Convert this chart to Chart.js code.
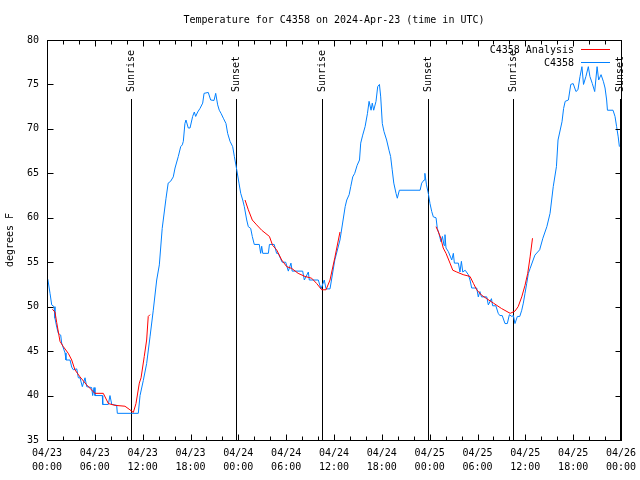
<!DOCTYPE html>
<html>
<head>
<meta charset="utf-8">
<title>Temperature for C4358</title>
<script src="https://cdn.jsdelivr.net/npm/chart.js@4"></script>
<style>
  html, body { margin: 0; padding: 0; background: #fff; }
</style>
</head>
<body>
<canvas id="tempChart" width="640" height="480"></canvas>
<script>
// Data (hours since 2024-04-23 00:00 UTC)

const obsHours = [0.1, 0.38, 0.59, 0.88, 1.0, 1.22, 1.42, 1.72, 1.84, 2.26, 2.38, 2.89, 3.1, 3.3, 3.73, 3.93, 4.14, 4.43, 4.77, 4.98,
    5.6, 5.73, 5.9, 6.02, 6.94, 6.99, 7.69, 7.9, 8.12, 8.74, 8.82, 10.62, 11.45, 11.67, 12.08, 12.5, 12.92, 13.33, 13.76, 14.09,
    14.45, 14.93, 15.2, 15.5, 15.84, 16.06, 16.47, 16.77, 16.97, 17.1, 17.3, 17.43, 17.72, 17.94, 18.27, 18.48, 18.65, 18.9, 19.19, 19.53,
    19.7, 20.23, 20.53, 20.95, 21.16, 21.41, 21.61, 21.83, 22.12, 22.45, 22.66, 22.96, 23.29, 23.5, 23.8, 24.08, 24.3, 24.55, 24.75, 25.05,
    25.25, 25.55, 25.75, 26.0, 26.63, 26.8, 26.93, 27.06, 27.77, 27.9, 28.5, 28.8, 29.0, 29.3, 29.5, 29.94, 30.27, 30.6, 30.75, 32.07,
    32.28, 32.78, 32.9, 34.03, 34.37, 34.78, 35.0, 35.5, 36.1, 36.75, 37.4, 37.6, 37.9, 38.1, 38.35, 38.6, 38.9, 39.2, 39.35, 39.6,
    39.9, 40.2, 40.4, 40.65, 40.8, 40.98, 41.27, 41.48, 41.7, 41.86, 42.06, 42.27, 42.6, 42.9, 43.1, 43.3, 43.5, 43.78, 43.94, 44.2,
    46.8, 47.0, 47.3, 47.4, 47.6, 47.83, 48.04, 48.26, 48.46, 48.8, 48.96, 49.2, 49.42, 49.6, 49.8, 49.92, 50.05, 50.34, 50.77, 50.97,
    51.1, 51.6, 51.8, 51.98, 52.15, 52.45, 52.85, 53.06, 53.27, 53.9, 54.1, 54.3, 54.5, 55.16, 55.36, 55.75, 55.9, 56.3, 56.6, 56.8,
    57.1, 57.45, 57.74, 58.0, 58.3, 58.5, 58.7, 59.0, 59.3, 59.55, 59.75, 59.96, 60.17, 60.38, 60.6, 61.2, 61.8, 62.2, 62.7, 63.1,
    63.5, 63.9, 64.1, 64.6, 64.8, 65.0, 65.4, 65.7, 66.0, 66.35, 66.6, 66.86, 67.1, 67.3, 67.6, 67.9, 68.1, 68.4, 68.7, 69.0,
    69.2, 69.5, 69.8, 70.0, 70.2, 70.3, 71.0, 71.25, 71.45, 71.65, 71.8];

const obsTemps = [53.1, 51.5, 50.2, 50.0, 48.7, 47.7, 47.0, 46.8, 45.9, 44.8, 44.0, 44.0, 43.2, 42.9, 43.0, 42.0, 42.0, 41.0, 42.0, 41.0,
    40.9, 40.0, 40.9, 40.0, 40.0, 39.0, 39.0, 40.0, 39.0, 38.9, 38.0, 38.0, 38.0, 40.0, 41.7, 43.6, 46.6, 49.6, 53.0, 54.7,
    58.8, 62.2, 63.9, 64.1, 64.6, 65.6, 66.9, 68.0, 68.2, 68.6, 70.6, 71.0, 70.1, 70.1, 71.4, 71.9, 71.4, 71.9, 72.3, 72.9,
    74.0, 74.1, 73.25, 73.2, 74.0, 72.7, 72.1, 71.75, 71.2, 70.6, 69.5, 68.6, 68.0, 66.9, 65.4, 63.9, 62.75, 62.0, 61.25, 59.75,
    59.0, 58.8, 57.9, 57.0, 57.0, 56.0, 56.8, 56.0, 56.0, 57.0, 57.0, 56.0, 56.0, 55.4, 55.0, 55.0, 54.0, 54.9, 54.0, 54.0,
    53.0, 53.9, 53.0, 53.0, 52.0, 53.0, 52.0, 52.0, 55.25, 57.5, 61.25, 62.0, 62.6, 63.5, 64.6, 65.0, 65.9, 66.5, 68.4, 69.3,
    70.25, 71.75, 73.1, 72.1, 72.9, 72.1, 73.1, 74.75, 75.0, 73.6, 70.6, 69.7, 68.75, 67.6, 66.9, 65.4, 63.9, 62.75, 62.2, 63.1,
    63.1, 63.9, 64.25, 65.0, 63.7, 62.75, 61.6, 60.7, 60.1, 60.0, 58.8, 58.1, 57.3, 57.9, 56.9, 58.1, 56.6, 56.2, 55.25, 56.0,
    54.9, 54.9, 53.9, 55.1, 53.9, 54.1, 53.6, 53.0, 52.1, 52.1, 51.1, 51.7, 51.1, 51.1, 50.2, 50.9, 50.1, 50.1, 49.25, 49.0,
    49.0, 48.1, 48.1, 49.1, 48.9, 49.0, 48.1, 48.9, 48.9, 49.6, 50.4, 51.5, 52.6, 53.75, 54.3, 55.8, 56.4, 57.7, 59.0, 60.5,
    63.5, 65.75, 68.75, 70.8, 72.3, 73.1, 73.25, 75.0, 75.1, 74.2, 74.4, 75.9, 77.0, 75.0, 75.9, 77.0, 75.9, 75.1, 74.2, 77.0,
    75.5, 76.1, 75.3, 74.6, 73.25, 72.1, 72.1, 71.4, 70.25, 69.1, 68.0];

// analysis has gaps (null)
const anaHours = [0.67, 1.0, 1.22, 1.63, 2.05, 2.67, 3.1, 3.5, 4.14, 4.98, 6.0, 7.06, 7.7, 8.53, 9.78, 10.4, 10.83, 11.16, 11.58, 11.8,
    12.2, 12.5, 12.7, 12.92, 18.0,
    24.84, 25.25, 25.75, 26.3, 26.93, 27.9, 28.3, 28.8, 29.44, 30.07, 30.7, 31.5, 32.36, 33.2, 33.83, 34.46, 35.0, 35.5, 36.1, 36.75, 42.0,
    48.8, 49.1, 49.4, 49.7, 50.05, 50.55, 50.9, 51.4, 52.2, 53.06, 53.5, 53.9, 54.5, 55.16, 56.0, 57.0, 58.1, 58.7, 59.1, 59.55,
    59.96, 60.3, 60.6, 60.9];

const anaTemps = [49.7, 49.4, 48.2, 46.1, 45.5, 44.75, 44.0, 42.9, 42.1, 41.2, 40.25, 40.25, 39.1, 38.9, 38.8, 38.4, 38.1, 39.1, 41.4, 42.0,
    44.4, 46.25, 48.9, 49.1, null,
    62.0, 60.9, 59.75, 59.2, 58.6, 57.9, 56.9, 56.4, 55.25, 54.5, 54.3, 53.75, 53.4, 53.2, 52.6, 51.9, 51.9, 53.0, 55.5, 58.4, null,
    59.0, 58.4, 57.7, 56.6, 56.0, 54.9, 54.1, 53.9, 53.6, 53.4, 52.6, 51.9, 51.3, 50.9, 50.4, 49.8, 49.25, 49.5, 50.0, 51.1,
    52.4, 53.75, 55.6, 57.7];

const sunHours = [10.54, 23.70, 34.48, 47.79, 58.45, 71.9];
const sunLabels = ['Sunrise', 'Sunset', 'Sunrise', 'Sunset', 'Sunrise', 'Sunset'];

const xLabelHours = [0, 6, 12, 18, 24, 30, 36, 42, 48, 54, 60, 66, 72];
const xLabelDates = ['04/23', '04/23', '04/23', '04/23', '04/24', '04/24', '04/24', '04/24', '04/25', '04/25', '04/25', '04/25', '04/26'];
const xLabelTimes = ['00:00', '06:00', '12:00', '18:00', '00:00', '06:00', '12:00', '18:00', '00:00', '06:00', '12:00', '18:00', '00:00'];

const FONT = 'DejaVu Sans Mono';

// Sunrise / sunset lines, frame with inward ticks, legend

const gnuplotLook = {
    id: 'gnuplotLook',
    beforeDatasetsDraw(chart) {
        const ctx = chart.ctx;
        const area = chart.chartArea;
        const xs = chart.scales.x;
        ctx.save();
        ctx.strokeStyle = '#000';
        ctx.lineWidth = 1;
        ctx.fillStyle = '#000';
        ctx.font = '10px ' + FONT;
        sunHours.forEach((h, i) => {
            const px = Math.round(xs.getPixelForValue(h)) + 0.5;
            ctx.beginPath();
            ctx.moveTo(px, area.top + 59);
            ctx.lineTo(px, area.bottom);
            ctx.stroke();
            ctx.save();
            ctx.translate(px, area.top + 52);
            ctx.rotate(-Math.PI / 2);
            ctx.textAlign = 'left';
            ctx.textBaseline = 'middle';
            ctx.fillText(sunLabels[i], 0, 0);
            ctx.restore();
        });
        ctx.restore();
    },
    afterDatasetsDraw(chart) {
        const ctx = chart.ctx;
        const area = chart.chartArea;
        const xs = chart.scales.x;
        const ys = chart.scales.y;
        ctx.save();
        ctx.strokeStyle = '#000';
        ctx.lineWidth = 1;
        const l = Math.round(area.left) + 0.5, r = Math.round(area.right) + 0.5;
        const t = Math.round(area.top) + 0.5, b = Math.round(area.bottom) + 0.5;
        ctx.strokeRect(l, t, r - l, b - t);
        ctx.beginPath();
        xs.ticks.forEach(tk => {
            const px = Math.round(xs.getPixelForValue(tk.value)) + 0.5;
            const len = tk.value % 6 === 0 ? 6 : 4;
            ctx.moveTo(px, b); ctx.lineTo(px, b - len);
            ctx.moveTo(px, t); ctx.lineTo(px, t + len);
        });
        ys.ticks.forEach(tk => {
            const py = Math.round(ys.getPixelForValue(tk.value)) + 0.5;
            ctx.moveTo(l, py); ctx.lineTo(l + 6, py);
            ctx.moveTo(r, py); ctx.lineTo(r - 6, py);
        });
        ctx.stroke();

        // legend
        ctx.font = '10px ' + FONT;
        ctx.textAlign = 'right';
        ctx.textBaseline = 'middle';
        ctx.fillStyle = '#000';
        chart.data.datasets.forEach((ds, i) => {
            const yy = area.top + 9.5 + i * 13;
            ctx.fillText(ds.label, area.left + 527, yy + 1);
            ctx.strokeStyle = ds.borderColor;
            ctx.beginPath();
            ctx.moveTo(area.left + 534, yy);
            ctx.lineTo(area.left + 563, yy);
            ctx.stroke();
        });
        ctx.restore();
    }
};

const tempChart = new Chart(document.getElementById('tempChart'), {
    type: 'line',
    data: {
        datasets: [{
            label: 'C4358 Analysis',
            data: anaHours.map((h, i) => ({ x: h, y: anaTemps[i] })),
            borderColor: '#ff0000',
            borderWidth: 1,
            pointRadius: 0,
            spanGaps: false
        }, {
            label: 'C4358',
            data: obsHours.map((h, i) => ({ x: h, y: obsTemps[i] })),
            borderColor: '#0080ff',
            borderWidth: 1,
            pointRadius: 0
        }]
    },
    options: {
        responsive: false,
        animation: false,
        devicePixelRatio: 1,
        layout: { padding: { left: 0, right: 19, top: 0, bottom: 0 } },
        scales: {
            x: {
                type: 'linear',
                min: 0,
                max: 72,
                grid: { display: false, drawTicks: false },
                border: { display: false },
                ticks: {
                    stepSize: 2,
                    autoSkip: false,
                    maxRotation: 0,
                    padding: 6,
                    color: '#000',
                    font: { family: FONT, size: 10, lineHeight: 1.4 },
                    callback: v => {
                        const k = xLabelHours.indexOf(v);
                        return k < 0 ? '' : [xLabelDates[k], xLabelTimes[k]];
                    }
                },
                afterFit: s => {
                    s.height = 40;
                    s.paddingRight = 0;
                    s.paddingLeft = 0;
                }
            },
            y: {
                min: 35,
                max: 80,
                grid: { display: false, drawTicks: false },
                border: { display: false },
                ticks: {
                    stepSize: 5,
                    padding: 8,
                    color: '#000',
                    font: { family: FONT, size: 10 }
                },
                title: {
                    display: true,
                    text: 'degrees F',
                    color: '#000',
                    font: { family: FONT, size: 10 },
                    padding: { top: 4, bottom: 0 }
                },
                afterFit: s => { s.width = 47; }
            }
        },
        plugins: {
            legend: { display: false },
            tooltip: { enabled: false },
            title: {
                display: true,
                fullSize: false,
                text: 'Temperature for C4358 on 2024-Apr-23 (time in UTC)',
                color: '#000',
                font: { family: FONT, size: 10, weight: 'normal', lineHeight: 1.2 },
                padding: { top: 14, bottom: 14 }
            }
        }
    },
    plugins: [gnuplotLook]
});
</script>
</body>
</html>
